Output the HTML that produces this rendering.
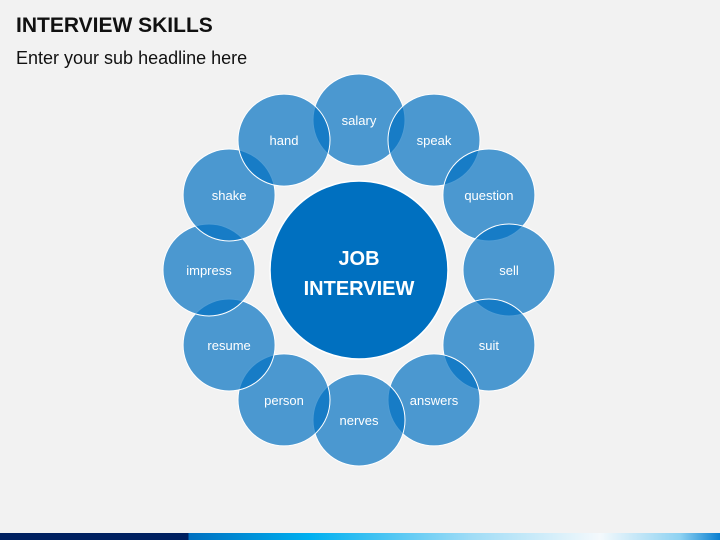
<!DOCTYPE html>
<html><head><meta charset="utf-8"><style>
body{margin:0;width:720px;height:540px;background:#f2f2f2;overflow:hidden;font-family:"Liberation Sans",sans-serif;position:relative}
#t{position:absolute;left:16px;top:14px;font-size:21px;font-weight:bold;color:#111}
#s{position:absolute;left:16px;top:48px;font-size:18px;color:#111}
#bar{position:absolute;left:0;top:533px;width:720px;height:7px;background:linear-gradient(90deg,#002060 0,#002060 188px,#0070c0 189px,#00b0f0 310px,#9fdcf6 470px,#f4f9fc 600px,#8ed2f2 680px,#0a7fd0 720px)}
</style></head><body>
<div id="t">INTERVIEW SKILLS</div>
<div id="s">Enter your sub headline here</div>
<svg id="d" width="720" height="540" style="position:absolute;left:0;top:0"></svg>
<div id="bar"></div>
<script>
const labels=["salary","speak","question","sell","suit","answers","nerves","person","resume","impress","shake","hand"];
const cx=359,cy=270,R=150,r=46;
const svg=document.getElementById('d');
const ns='http://www.w3.org/2000/svg';
labels.forEach((l,i)=>{
  const a=i*Math.PI/6;
  const x=cx+R*Math.sin(a),y=cy-R*Math.cos(a);
  const c=document.createElementNS(ns,'circle');
  
  
  c.setAttribute('cx',x);c.setAttribute('cy',y);c.setAttribute('r',r);
  c.setAttribute('fill','#0070c0');c.setAttribute('fill-opacity','0.69');
  c.setAttribute('stroke','#ffffff');c.setAttribute('stroke-width','1');
  svg.appendChild(c);
});
labels.forEach((l,i)=>{
  const a=i*Math.PI/6;
  const x=cx+R*Math.sin(a),y=cy-R*Math.cos(a);
  const t=document.createElementNS(ns,'text');
  
  
  t.setAttribute('x',x);t.setAttribute('y',y+5);t.setAttribute('text-anchor','middle');
  t.setAttribute('fill','#fff');t.setAttribute('font-size','13');
  t.setAttribute('font-family','Liberation Sans, sans-serif');
  t.textContent=l;svg.appendChild(t);
});
const m=document.createElementNS(ns,'circle');


m.setAttribute('cx',cx);m.setAttribute('cy',cy);m.setAttribute('r',89);
m.setAttribute('fill','#0070c0');m.setAttribute('stroke','#fff');m.setAttribute('stroke-width','1.5');
svg.appendChild(m);
["JOB","INTERVIEW"].forEach((w,i)=>{
  const t=document.createElementNS(ns,'text');
  
  
  t.setAttribute('x',cx);t.setAttribute('y',265+i*30);t.setAttribute('text-anchor','middle');
  t.setAttribute('fill','#fff');t.setAttribute('font-size','20');t.setAttribute('font-weight','bold');
  t.setAttribute('font-family','Liberation Sans, sans-serif');
  t.textContent=w;svg.appendChild(t);
});
</script>
</body></html>
